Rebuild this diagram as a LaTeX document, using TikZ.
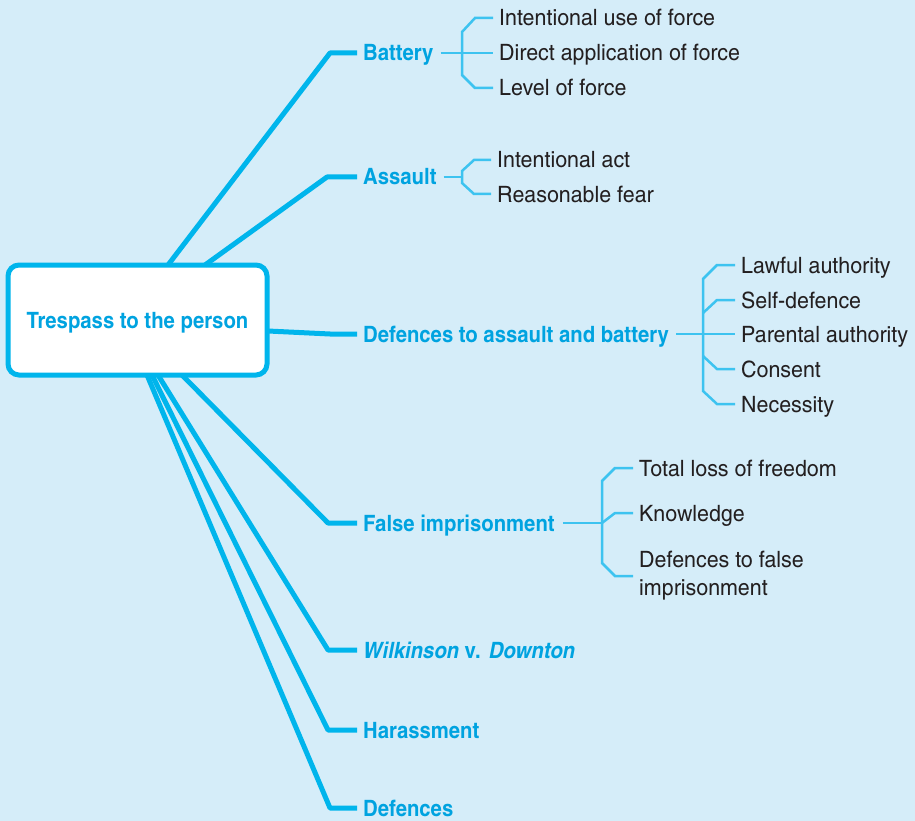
\documentclass[tikz,border=0pt]{standalone}
\usepackage{fontspec}
\setmainfont{texgyreheroscn}[Extension=.otf, UprightFont=*-regular, BoldFont=*-bold, ItalicFont=*-italic, BoldItalicFont=*-bolditalic,
  UprightFeatures={FakeStretch=1.16}, ItalicFeatures={FakeStretch=1.16},
  BoldFeatures={FakeStretch=1.1}, BoldItalicFeatures={FakeStretch=1.1}]
\usetikzlibrary{positioning, calc}

\definecolor{bgblue}{HTML}{D5EDF9}
\definecolor{mapline}{HTML}{00B5EC}
\definecolor{maptext}{HTML}{00A3E0}
\definecolor{subline}{HTML}{3DC3F0}
\definecolor{subtext}{HTML}{231F20}

\tikzset{
  topic/.style={font=\fontsize{22.5}{27}\selectfont\bfseries, text=maptext, anchor=west, inner sep=0pt,
                text height=16pt, text depth=0pt},
  pointbase/.style={font=\fontsize{22.5}{28}\selectfont, text=subtext, anchor=west, inner sep=0pt, align=left},
  point/.style={pointbase, text height=16pt, text depth=0pt},
  branch/.style={draw=mapline, line width=5pt, line join=round},
  bracket/.style={draw=subline, line width=2.5pt},
}

\begin{document}
\begin{tikzpicture}[x=1pt, y=-1pt]
\fill[bgblue] (0,0) rectangle (915,821);
\useasboundingbox (0,0) rectangle (915,821);

% Centre
\node[draw=mapline, line width=5pt, rounded corners=11pt, fill=white, minimum width=259pt, minimum height=110pt,
      text height=16pt, text depth=0pt,
      font=\fontsize{22.5}{27}\selectfont\bfseries, text=maptext] (centre) at (137.5,320) {Trespass to the person\hspace{4pt}};

% Topics
\node[topic] (battery) at (363,53) {Battery};
\node[topic] (assault) at (363,177) {Assault};
\node[topic] (defab) at (363,334) {Defences to assault and battery};
\node[topic] (falseimp) at (363,523) {False imprisonment};
\node[topic] (wilkinson) at (363,650) {\itshape Wilkinson\/ \upshape v.\hspace{8pt}\itshape Downton};
\node[topic] (harass) at (363,730) {Harassment};
\node[topic] (defences) at (363,808) {Defences};

% Roots on the centre box
\coordinate (r-battery) at (168,265);
\coordinate (r-assault) at (205,265);
\coordinate (r-defab) at (268,331);
\coordinate (r-falseimp) at (182,375);
\coordinate (r-wilkinson) at (158,375);
\coordinate (r-harass) at (152,375);
\coordinate (r-defences) at (147,375);

% Branches
\foreach \name/\ex in {battery/330, assault/327, defab/330, falseimp/328, wilkinson/328, harass/328, defences/330}{
  \draw[branch] (r-\name) -- (\ex,0 |- \name) -- ([xshift=-6pt]\name.west);
}

% Battery
\node[point] (force1) at (499,18) {Intentional use of force};
\node[point] (force2) at (499,53) {Direct application of force};
\node[point] (force3) at (499,88) {Level of force};
\draw[bracket] ([xshift=7pt]battery.east) -- ([xshift=-6pt]force2.west);
\draw[bracket] ([xshift=-6pt]force1.west) -- (475,0 |- force1) -- (462,32) -- (462,75) -- (475,0 |- force3) -- ([xshift=-6pt]force3.west);

% Assault
\node[point] (act) at (497,160) {Intentional act};
\node[point] (fear) at (497,194) {Reasonable fear};
\draw[bracket] ([xshift=7pt]assault.east) -- (462,0 |- assault);
\draw[bracket] ([xshift=-6pt]act.west) -- (474,0 |- act) -- (462,171) -- (462,183) -- (474,0 |- fear) -- ([xshift=-6pt]fear.west);

% Defences to assault and battery
\node[point] (lawful) at (741,265) {Lawful authority};
\node[point] (selfdef) at (741,300) {Self-defence};
\node[point] (parental) at (741,334) {Parental authority};
\node[point] (consent) at (741,369) {Consent};
\node[point] (necessity) at (741,404) {Necessity};
\draw[bracket] ([xshift=7pt]defab.east) -- ([xshift=-6pt]parental.west);
\draw[bracket] ([xshift=-6pt]lawful.west) -- (717,0 |- lawful) -- (703,279) -- (703,391) -- (717,0 |- necessity) -- ([xshift=-6pt]necessity.west);
\draw[bracket] ([xshift=-6pt]selfdef.west) -- (717,0 |- selfdef) -- (703,313);
\draw[bracket] ([xshift=-6pt]consent.west) -- (717,0 |- consent) -- (703,356);

% False imprisonment
\node[point] (loss) at (639,468) {Total loss of freedom};
\node[point] (knowledge) at (639,513) {Knowledge};
\node[pointbase] (deffalse) at (639,576) {Defences to false\\imprisonment};
\draw[bracket] ([xshift=8pt]falseimp.east) -- (602,0 |- falseimp);
\draw[bracket] ([xshift=-6pt]loss.west) -- (615,0 |- loss) -- (602,481) -- (602,563) -- (615,576) -- ([xshift=-6pt]deffalse.west);
\draw[bracket] ([xshift=-6pt]knowledge.west) -- (615,0 |- knowledge) -- (602,523);
\end{tikzpicture}
\end{document}
